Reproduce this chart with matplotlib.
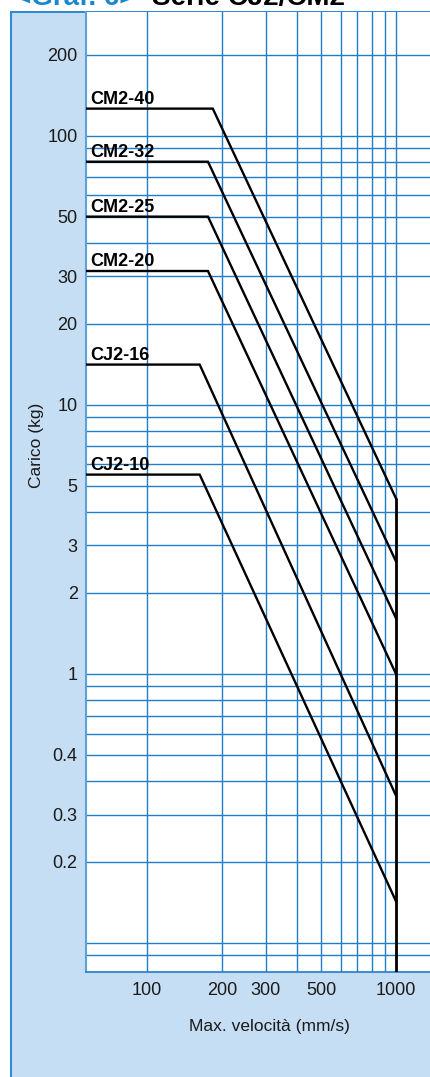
import numpy as np
import matplotlib
matplotlib.use("Agg")
import matplotlib.pyplot as plt
from matplotlib.patches import Rectangle
from matplotlib.ticker import FixedLocator, FixedFormatter, NullLocator

plt.rcParams['font.family'] = ['Liberation Sans', 'DejaVu Sans']

# cylinder series: flat max load, speed where it starts to drop, load at 1000 mm/s
series = ['CM2-40', 'CM2-32', 'CM2-25', 'CM2-20', 'CJ2-16', 'CJ2-10']
flat_load = [126, 80, 50, 31.4, 14.1, 5.5]
break_speed = [184, 176, 176, 176, 163, 163]
end_load = [4.49, 2.62, 1.61, 1.0, 0.353, 0.143]
max_speed = 1000

x_ticks = [100, 200, 300, 500, 1000]
x_labels = ['100', '200', '300', '500', '1000']
x_grid = [100, 200, 300, 400, 500, 600, 700, 800, 900, 1000]
y_ticks = [200, 100, 50, 30, 20, 10, 5, 3, 2, 1, 0.5, 0.3, 0.2]
y_labels = ['200', '100', '50', '30', '20', '10', '5', '3', '2', '1', '0.4', '0.3', '0.2']

xlim = (57, 1370)
ylim = (0.078, 288)

panel_c = '#c6def3'
edge_c = '#2a88d2'
grid_c = '#1f7ec8'

W, H = 430, 1077
fig = plt.figure(figsize=(W / 100, H / 100), dpi=100)

# light blue background panel with border on left/top
panel = Rectangle((10.5 / W, -0.02), 1.0, 1 - 12 / H + 0.02, transform=fig.transFigure,
                  facecolor=panel_c, edgecolor=edge_c, linewidth=1.4, zorder=-10)
fig.patches.append(panel)

ax = fig.add_axes([86 / W, 105 / H, (W - 86) / W, (972 - 12) / H])
ax.set_zorder(1)
ax.set_facecolor('white')
ax.set_xscale('log')
ax.set_yscale('log')
ax.set_xlim(*xlim)
ax.set_ylim(*ylim)

# grid
for x in x_grid:
    ax.axvline(x, color=grid_c, lw=1.0, zorder=1)
y_grid = [m * 10.0 ** e for e in range(-2, 3) for m in range(1, 10)]
for y in y_grid:
    if 0.085 < y < ylim[1]:
        ax.axhline(y, color=grid_c, lw=1.0, zorder=1)

# curves
for name, fl, bs, el in zip(series, flat_load, break_speed, end_load):
    ax.plot([xlim[0], bs, max_speed], [fl, fl, el], color='black', lw=1.7,
            zorder=3, solid_joinstyle='miter')
    ax.annotate(name, (xlim[0], fl), xytext=(3, 3.5), textcoords='offset points',
                fontsize=13, fontweight='bold', va='baseline', ha='left', zorder=4)
ax.vlines(max_speed, ylim[0], max(end_load), color='black', lw=2.0, zorder=3)

ax.xaxis.set_major_locator(FixedLocator(x_ticks))
ax.xaxis.set_major_formatter(FixedFormatter(x_labels))
ax.xaxis.set_minor_locator(NullLocator())
ax.yaxis.set_major_locator(FixedLocator(y_ticks))
ax.yaxis.set_major_formatter(FixedFormatter(y_labels))
ax.yaxis.set_minor_locator(NullLocator())
ax.tick_params(length=0, labelsize=13, colors='#1a1a1a')
ax.tick_params(axis='y', pad=6)
ax.tick_params(axis='x', pad=7)

ax.spines['left'].set_color('#5aa2da')
ax.spines['left'].set_linewidth(1.5)
ax.spines['bottom'].set_color(grid_c)
ax.spines['bottom'].set_linewidth(1.2)
ax.spines['right'].set_visible(False)
ax.spines['top'].set_visible(False)

fig.text(269 / W, 1 - 1026 / H, 'Max. velocità (mm/s)', fontsize=12.5,
         ha='center', va='center', color='#1a1a1a')
fig.text(36 / W, 1 - 445 / H, 'Carico (kg)', fontsize=12.5, rotation=90,
         ha='center', va='center', color='#1a1a1a')

# title, clipped at the top edge
fig.text(15 / W, 1 - 5 / H, '<Graf. 6>', fontsize=20, fontweight='bold',
         color='#1a86d0', va='baseline', ha='left')
fig.text(152 / W, 1 - 5 / H, 'Serie CJ2/CM2', fontsize=20, fontweight='bold',
         color='black', va='baseline', ha='left')

fig.savefig('out.png', dpi=100)
